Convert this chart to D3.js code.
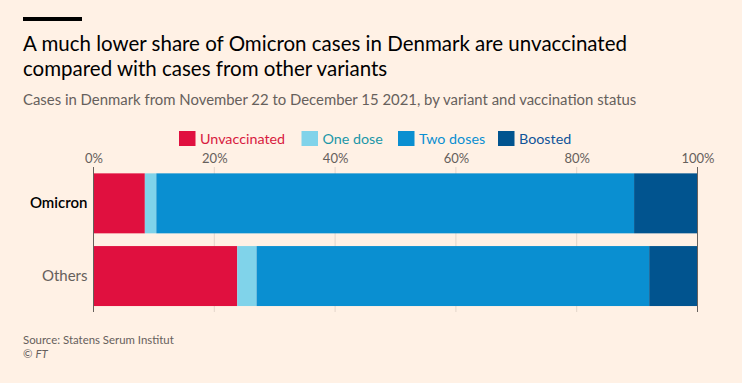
<!DOCTYPE html>
<html>
<head>
<meta charset="utf-8">
<script src="https://cdn.jsdelivr.net/npm/d3@7"></script>
<style>
  html, body { margin: 0; padding: 0; background: #fff1e5; }
  svg { display: block; }
  text { font-family: Lato, "Noto Sans", sans-serif; }
</style>
</head>
<body>
<svg id="chart" width="742" height="383"></svg>
<script>
const categories = ["Omicron", "Others"];
const seriesNames = ["Unvaccinated", "One dose", "Two doses", "Boosted"];
const unvaccinated = [8.5, 23.8];
const oneDose = [1.9, 3.2];
const twoDoses = [79.1, 65.0];
const boosted = [10.5, 8.0];
const tickValues = [0, 20, 40, 60, 80, 100];
const tickLabels = ["0%", "20%", "40%", "60%", "80%", "100%"];

const colors = ["#e0103f", "#80d3ea", "#0a8fd1", "#01548f"];
const legendTextColors = ["#d81a40", "#1c97a8", "#0a8fd1", "#0f5499"];

const rows = categories.map((c, i) => ({
  category: c,
  "Unvaccinated": unvaccinated[i],
  "One dose": oneDose[i],
  "Two doses": twoDoses[i],
  "Boosted": boosted[i]
}));
const stacked = d3.stack().keys(seriesNames)(rows);

const svg = d3.select("#chart");
svg.append("rect").attr("width", 742).attr("height", 383).attr("fill", "#fff1e5");

// header bar
svg.append("rect").attr("x", 23).attr("y", 17).attr("width", 59).attr("height", 4).attr("fill", "#000");

svg.append("text").attr("x", 23).attr("y", 51)
  .attr("font-size", 20.5).attr("fill", "#000")
  .text("A much lower share of Omicron cases in Denmark are unvaccinated");
svg.append("text").attr("x", 23).attr("y", 76)
  .attr("font-size", 20.5).attr("fill", "#000")
  .text("compared with cases from other variants");
svg.append("text").attr("x", 23).attr("y", 105)
  .attr("font-size", 14.9).attr("fill", "#66605c")
  .text("Cases in Denmark from November 22 to December 15 2021, by variant and vaccination status");

// legend
const legendX = [179, 301.5, 398, 498];
const lg = svg.append("g");
seriesNames.forEach((s, i) => {
  lg.append("rect").attr("x", legendX[i]).attr("y", 131).attr("width", 16.5).attr("height", 15)
    .attr("fill", colors[i]);
  lg.append("text").attr("x", legendX[i] + 21).attr("y", 143.5)
    .attr("font-size", 14.3).attr("fill", legendTextColors[i]).text(s);
});

const x = d3.scaleLinear().domain([0, 100]).range([93.5, 697.5]);
const y = d3.scaleBand().domain(categories).range([167, 312.4]).paddingInner(0.175).paddingOuter(0.0875);

// gridlines
svg.append("g").selectAll("line").data(tickValues.filter(v => v > 0 && v < 100)).join("line")
  .attr("x1", d => x(d)).attr("x2", d => x(d))
  .attr("y1", 167).attr("y2", 312)
  .attr("stroke", "#e3d6cb").attr("stroke-width", 1);

// top axis labels
const xAxis = d3.axisTop(x).tickValues(tickValues).tickSize(0)
  .tickFormat((d, i) => tickLabels[i]);
const ax = svg.append("g").attr("transform", "translate(0,166)").call(xAxis);
ax.select(".domain").remove();
ax.selectAll("text").attr("font-size", 13).attr("fill", "#66605c")
  .attr("font-family", "Lato, 'Noto Sans', sans-serif").attr("dy", 0);

// bars
svg.append("g").selectAll("g").data(stacked).join("g")
  .attr("fill", (d, i) => colors[i])
  .selectAll("rect").data(d => d).join("rect")
  .attr("x", d => x(d[0]))
  .attr("width", d => x(d[1]) - x(d[0]))
  .attr("y", d => y(d.data.category))
  .attr("height", y.bandwidth());

// 0 and 100 axis lines
svg.append("g").selectAll("line").data([0, 100]).join("line")
  .attr("x1", d => x(d)).attr("x2", d => x(d))
  .attr("y1", 167).attr("y2", 312)
  .attr("stroke", "#66605c").attr("stroke-width", 1);

// category labels
const yAxis = d3.axisLeft(y).tickSize(0).tickPadding(6);
const ay = svg.append("g").attr("transform", `translate(${x(0)},0)`).call(yAxis);
ay.select(".domain").remove();
ay.selectAll("text")
  .attr("font-size", 15)
  .attr("font-family", "Lato, 'Noto Sans', sans-serif")
  .attr("fill", d => d === "Omicron" ? "#000" : "#66605c")
  .attr("font-weight", d => d === "Omicron" ? 600 : 400);

// source
svg.append("text").attr("x", 23).attr("y", 344).attr("font-size", 11.4).attr("fill", "#66605c")
  .text("Source: Statens Serum Institut");
const ft = svg.append("text").attr("x", 23).attr("y", 358).attr("font-size", 11.4).attr("fill", "#66605c");
ft.append("tspan").text("© ");
ft.append("tspan").attr("font-style", "italic").text("FT");
</script>
</body>
</html>
